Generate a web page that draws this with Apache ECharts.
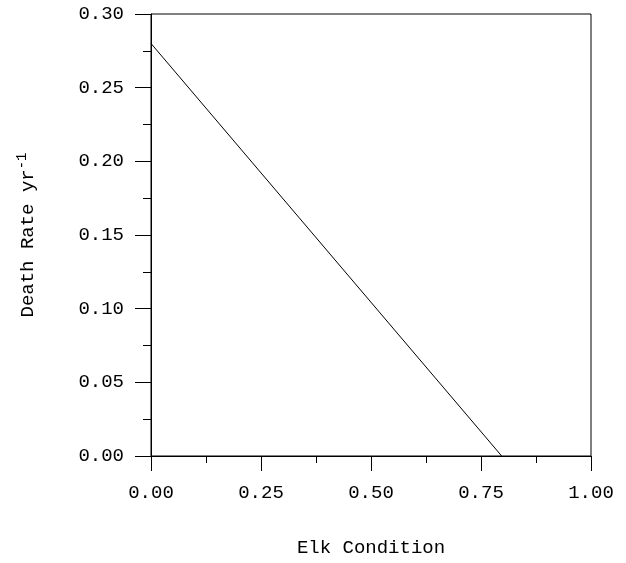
<!DOCTYPE html>
<html><head><meta charset="utf-8">
<script src="https://cdn.jsdelivr.net/npm/echarts@6/dist/echarts.min.js"></script>
<style>html,body{margin:0;padding:0;background:#fff}#c{width:626px;height:563px}</style>
</head><body><div id="c"></div>
<script>
var elkCondition = [0.0, 0.797];
var deathRate = [0.28, 0.0];
var xTicks = [0, 0.25, 0.5, 0.75, 1.0];
var yTicks = [0, 0.05, 0.1, 0.15, 0.2, 0.25, 0.3];
var xTitle = 'Elk Condition';
var yTitle = 'Death Rate yr';

var FONT = '"Liberation Mono", "Courier New", monospace';
var chart = echarts.init(document.getElementById('c'), null, {renderer: 'canvas'});
var pts = elkCondition.map(function (x, i) { return [x, deathRate[i]]; });
chart.setOption({
  animation: false,
  grid: {left: 151, right: 35, top: 14, bottom: 107, show: true, borderColor: '#000', borderWidth: 1},
  xAxis: {
    type: 'value', min: xTicks[0], max: xTicks[xTicks.length - 1], interval: 0.25,
    axisLine: {lineStyle: {color: '#000', width: 1}},
    axisTick: {inside: false, length: 15, lineStyle: {color: '#000'}},
    minorTick: {show: true, splitNumber: 2, length: 7, lineStyle: {color: '#000'}},
    splitLine: {show: false},
    axisLabel: {color: '#000', fontFamily: FONT, fontSize: 19, margin: 27, formatter: function (v) { return v.toFixed(2); }},
    name: xTitle, nameLocation: 'middle', nameGap: 82,
    nameTextStyle: {color: '#000', fontFamily: FONT, fontSize: 19}
  },
  yAxis: {
    type: 'value', min: yTicks[0], max: yTicks[yTicks.length - 1], interval: 0.05,
    axisLine: {show: true, lineStyle: {color: '#000', width: 1}},
    axisTick: {show: true, inside: false, length: 16, lineStyle: {color: '#000'}},
    minorTick: {show: true, splitNumber: 2, length: 8, lineStyle: {color: '#000'}},
    splitLine: {show: false},
    axisLabel: {color: '#000', fontFamily: FONT, fontSize: 19, margin: 27, formatter: function (v) { return v.toFixed(2); }},
    name: '{m|' + yTitle + '}{s|-1}', nameLocation: 'middle', nameGap: 110, nameRotate: 90,
    nameTextStyle: {color: '#000', fontFamily: FONT, fontSize: 19,
      rich: {m: {fontFamily: FONT, fontSize: 19, color: '#000'},
             s: {fontFamily: FONT, fontSize: 14, color: '#000', padding: [0, 0, 12, 0]}}}
  },
  series: [{
    type: 'line', data: pts, symbol: 'none',
    lineStyle: {color: '#000', width: 1}
  }]
});
</script></body></html>
